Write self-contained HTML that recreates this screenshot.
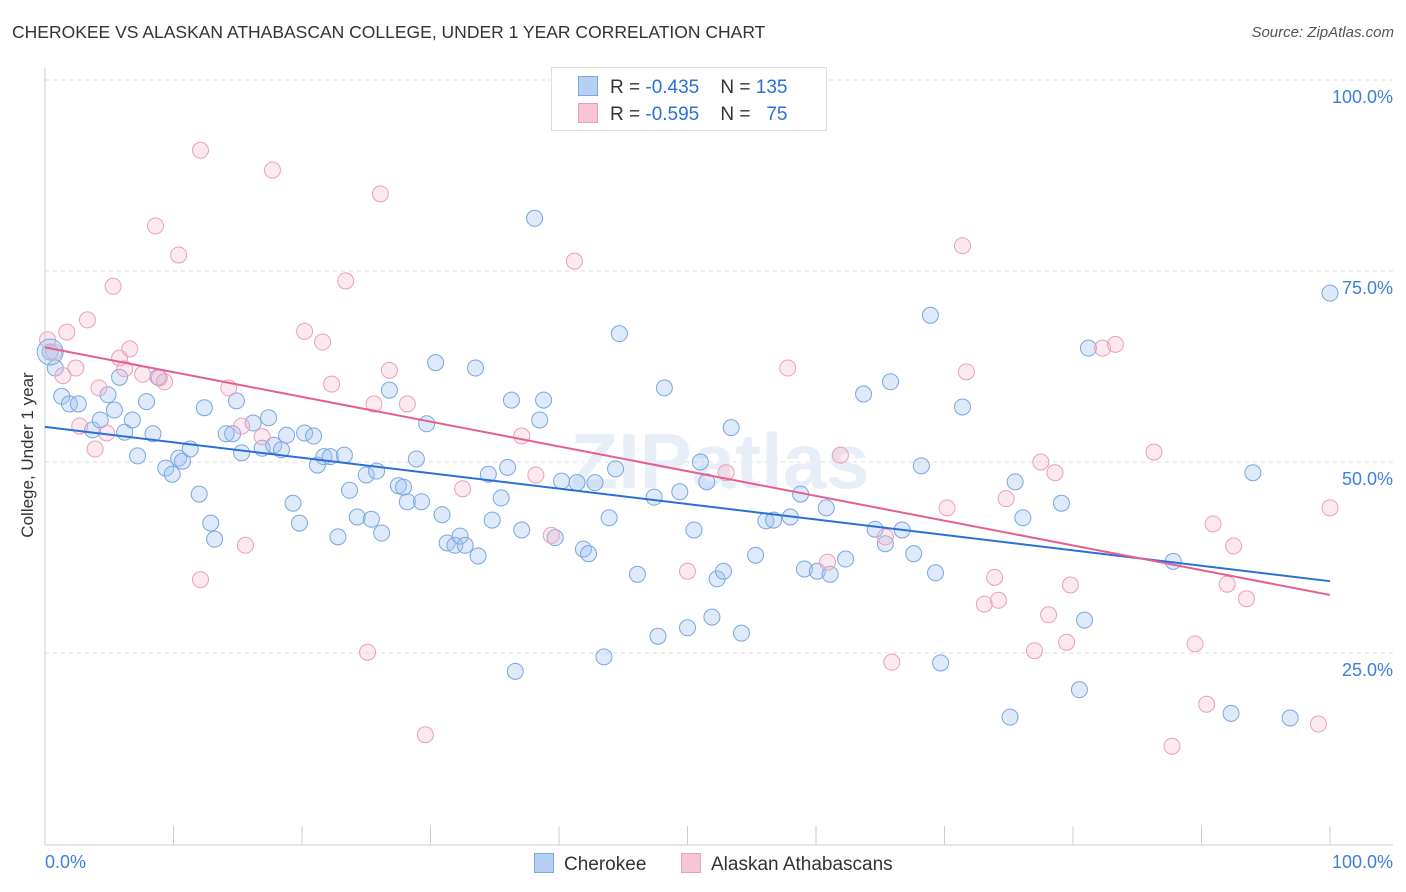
<!DOCTYPE html>
<html><head><meta charset="utf-8"><style>
body{margin:0;background:#fff;font-family:"Liberation Sans",sans-serif;}
#wrap{position:relative;width:1406px;height:892px;overflow:hidden;}
.t{position:absolute;white-space:nowrap;}
</style></head><body>
<div id="wrap">
<div class="t" style="left:12px;top:22px;font-size:17.5px;color:#333;">CHEROKEE VS ALASKAN ATHABASCAN COLLEGE, UNDER 1 YEAR CORRELATION CHART</div>
<div class="t" style="right:12px;top:24px;font-size:15px;color:#555;font-style:italic;">Source: ZipAtlas.com</div>
<svg id="svg" width="1406" height="892" style="position:absolute;left:0;top:0"></svg>
</div>
<script>
const cherokeeX=[0.4,0.8,1.3,1.9,2.6,3.7,4.3,4.9,5.4,5.8,6.2,6.8,7.2,7.9,8.4,8.8,9.4,9.9,10.4,10.7,11.3,12.0,12.4,12.9,13.2,14.1,14.6,14.9,15.3,16.2,16.9,17.4,17.8,18.4,18.8,19.3,19.8,20.2,20.9,21.2,21.7,22.2,22.8,23.3,23.7,24.3,25.0,25.4,25.8,26.2,26.8,27.5,27.9,28.2,28.9,29.3,29.7,30.4,30.9,31.3,31.9,32.3,32.7,33.5,33.7,34.5,34.8,35.5,36.0,36.3,37.1,38.1,38.5,38.8,39.7,40.2,41.4,41.9,42.3,42.8,43.5,43.9,44.4,44.7,46.1,47.4,47.7,48.2,49.4,50.0,50.5,51.0,51.5,51.9,52.3,52.8,53.4,54.2,55.3,56.1,56.7,58.0,58.8,59.1,60.1,60.8,61.1,62.3,63.7,64.6,65.4,65.8,66.7,67.6,68.2,68.9,69.3,69.7,71.4,75.1,75.5,76.1,79.1,80.5,80.9,81.2,87.8,92.3,94.0,96.9,100.0,36.6];
const cherokeeY=[64.4,62.3,58.6,57.6,57.6,54.2,55.5,58.8,56.8,61.1,53.9,55.5,50.8,57.9,53.7,61.1,49.2,48.4,50.5,50.1,51.7,45.8,57.1,42.0,39.9,53.7,53.7,58.0,51.2,55.1,51.8,55.8,52.2,51.6,53.5,44.6,42.0,53.8,53.4,49.6,50.7,50.7,40.2,50.9,46.3,42.8,48.3,42.5,48.8,40.7,59.4,46.9,46.7,44.8,50.4,44.8,55.0,63.0,43.1,39.4,39.1,40.3,39.1,62.3,37.7,48.4,42.4,45.3,49.3,58.1,41.1,81.9,55.5,58.1,40.1,47.5,47.3,38.6,38.0,47.3,24.5,42.7,49.1,66.8,35.3,45.4,27.2,59.7,46.1,28.3,41.1,50.0,47.4,29.7,34.7,35.7,54.5,27.6,37.8,42.3,42.4,42.8,45.8,36.0,35.7,44.0,35.3,37.3,58.9,41.2,39.3,60.5,41.1,38.0,49.5,69.2,35.5,23.7,57.2,16.6,47.4,42.7,44.6,20.2,29.3,64.9,37.0,17.1,48.6,16.5,72.1,22.6];
const athaX=[0.2,0.7,1.4,1.7,2.4,2.7,3.3,3.9,4.2,4.8,5.3,5.8,6.2,6.6,7.6,8.6,8.9,9.3,10.4,12.1,12.1,14.3,15.3,15.6,16.9,17.7,20.2,21.6,22.3,23.4,25.1,25.6,26.1,26.8,28.2,29.6,32.5,37.1,38.2,39.4,41.2,50.0,53.0,57.8,60.9,61.9,65.4,65.9,70.2,71.4,71.7,73.1,73.9,74.2,74.8,77.0,77.5,78.1,78.6,79.5,79.8,82.3,83.3,86.3,87.7,89.5,90.4,90.9,92.0,92.5,93.5,99.1,100.0];
const athaY=[66.0,64.4,61.3,67.0,62.3,54.7,68.6,51.7,59.7,53.8,73.0,63.6,62.2,64.8,61.5,80.9,61.0,60.5,77.1,34.6,90.8,59.7,54.7,39.1,53.3,88.2,67.1,65.7,60.2,73.7,25.1,57.6,85.1,62.0,57.6,14.3,46.5,53.4,48.3,40.4,76.3,35.7,48.6,62.3,36.9,50.9,40.2,23.8,44.0,78.3,61.8,31.4,34.9,31.9,45.2,25.3,50.0,30.0,48.6,26.4,33.9,64.9,65.4,51.3,12.8,26.2,18.3,41.9,34.0,39.0,32.1,15.7,44.0];
const fitStart=[54.6,65.0];
const fitEnd=[34.4,32.6];
const yTicks=[25,50,75,100];
const yTickLabels=["25.0%","50.0%","75.0%","100.0%"];
const xTicks=[0,10,20,30,40,50,60,70,80,90,100];

const X0=45,X1=1330,Y0=844,Y100=80;
const sx=v=>X0+(X1-X0)*v/100;
const sy=v=>Y0-(Y0-Y100)*v/100;
const svg=document.getElementById('svg');
const NS='http://www.w3.org/2000/svg';
function mk(tag,attrs){const e=document.createElementNS(NS,tag);for(const k in attrs)e.setAttribute(k,attrs[k]);svg.appendChild(e);return e;}

yTicks.forEach((v,i)=>{
  const g=mk('line',{x1:45,x2:1393,y1:sy(v),y2:sy(v),stroke:'#dcdcdc','stroke-dasharray':'4,4','stroke-width':1});
  
  
  const t=mk('text',{x:1393,y:sy(v)+23,'text-anchor':'end','font-size':18,fill:'#3d7fd9'});
  t.textContent=yTickLabels[i];
  
  
});
const wm=mk('text',{x:720,y:488,'text-anchor':'middle','font-size':78,fill:'#e8eef7','font-weight':'bold'});
wm.textContent='ZIPatlas';



let ax=mk('line',{x1:45,x2:45,y1:68,y2:845,stroke:'#ccc'});


ax=mk('line',{x1:45,x2:1393,y1:845,y2:845,stroke:'#ccc'});


xTicks.forEach(v=>{
  const l=mk('line',{x1:sx(v),x2:sx(v),y1:826,y2:845,stroke:'#ccc'});
  
  
});
function pts(xs,ys,fill,stroke,name){
  xs.forEach((x,i)=>{
    const c=mk('circle',{cx:sx(x),cy:sy(ys[i]),r:8,fill:fill,stroke:stroke,'stroke-width':1});
    
    
  });
}
pts(cherokeeX,cherokeeY,'rgba(160,195,240,0.35)','#7aa6df','cherokee-point');
pts(athaX,athaY,'rgba(246,180,202,0.3)','#eb9fba','athabascan-point');
const big=mk('circle',{cx:sx(cherokeeX[0]),cy:sy(cherokeeY[0]),r:13,fill:'rgba(160,195,240,0.35)',stroke:'#7aa6df'});


const cols=['#2a6fd8','#e45f8e'];
const names=['cherokee-trend-line','athabascan-trend-line'];
fitStart.forEach((s,i)=>{
  const l=mk('line',{x1:sx(0),y1:sy(s),x2:sx(100),y2:sy(fitEnd[i]),stroke:cols[i],'stroke-width':2});
  
  
});
</script>
<div class="t" style="left:45px;top:852px;font-size:18px;color:#3d7fd9;">0.0%</div>
<div class="t" style="right:13px;top:852px;font-size:18px;color:#3d7fd9;">100.0%</div>
<div class="t" style="left:28px;top:455px;font-size:17px;color:#333;transform:translate(-50%,-50%) rotate(-90deg);">College, Under 1 year</div>
<div style="position:absolute;left:551px;top:67px;width:274px;height:62px;border:1px solid #ddd;background:#fff;font-size:19px;color:#333;">
  <div style="position:absolute;left:26px;top:8px;white-space:nowrap;"><span style="display:inline-block;width:18px;height:18px;background:#b6d0f3;border:1px solid #7aa6df;vertical-align:-3px;margin-right:12px"></span>R = <span style="color:#2a6fd8">-0.435</span>&nbsp;&nbsp;&nbsp;&nbsp;N = <span style="color:#2a6fd8">135</span></div>
  <div style="position:absolute;left:26px;top:35px;white-space:nowrap;"><span style="display:inline-block;width:18px;height:18px;background:#f7c6d6;border:1px solid #eb9fba;vertical-align:-3px;margin-right:12px"></span>R = <span style="color:#2a6fd8">-0.595</span>&nbsp;&nbsp;&nbsp;&nbsp;N = &nbsp;&nbsp;<span style="color:#2a6fd8">75</span></div>
</div>
<div class="t" style="left:534px;top:853px;font-size:19px;color:#333;"><span style="display:inline-block;width:18px;height:18px;background:#b6d0f3;border:1px solid #7aa6df;vertical-align:-3px;margin-right:10px"></span>Cherokee</div>
<div class="t" style="left:681px;top:853px;font-size:19px;color:#333;"><span style="display:inline-block;width:18px;height:18px;background:#f7c6d6;border:1px solid #eb9fba;vertical-align:-3px;margin-right:10px"></span>Alaskan Athabascans</div>
</body></html>
